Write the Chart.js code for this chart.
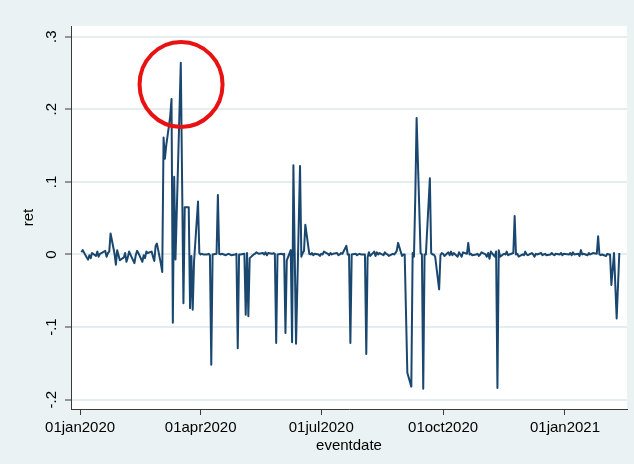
<!DOCTYPE html>
<html>
<head>
<meta charset="utf-8">
<script src="https://cdn.jsdelivr.net/npm/chart.js@4.4.1/dist/chart.umd.min.js"></script>
<style>
html,body{margin:0;padding:0;background:#EAF2F3;}
#wrap{width:634px;height:464px;position:relative;}
</style>
</head>
<body>
<div id="wrap"><canvas id="c" width="634" height="464"></canvas></div>
<script>
// Days since 01jan2020 (eventdate)
const days = [
  1,2,5,6,7,8,9,12,13,14,15,16,19,20,21,22,23,26,27,28,29,30,
  33,34,35,36,37,40,41,42,43,44,47,48,49,50,51,54,55,56,57,58,
  61,62,63,64,65,68,69,70,71,72,75,76,77,78,79,82,83,84,85,86,89,90,
  91,92,93,96,97,98,99,100,103,104,105,106,107,110,111,112,113,114,117,118,119,120,
  121,124,125,126,127,128,131,132,133,134,135,138,139,140,141,142,145,146,147,148,149,
  152,153,154,155,156,159,160,161,162,163,166,167,168,169,170,173,174,175,176,177,180,181,
  182,183,184,187,188,189,190,191,194,195,196,197,198,201,202,203,204,205,208,209,210,211,212,
  215,216,217,218,219,222,223,224,225,226,229,230,231,232,233,236,237,238,239,240,243,
  244,245,247,250,251,252,253,254,257,258,259,260,261,264,265,266,267,268,271,272,273,
  274,275,278,279,280,281,282,285,286,287,288,289,292,293,294,295,296,299,300,301,302,303,
  306,307,308,309,310,313,314,315,316,317,320,321,322,323,324,327,328,329,330,331,334,
  335,336,337,338,341,342,343,344,345,348,349,350,351,352,355,356,357,358,359,362,363,364,365,
  369,370,371,372,373,376,377,378,379,380,383,384,385,386,387,390,391,392,393,394,
  397,398,399,400,401,403,405,407
];
// ret values
const ret = [
  0.003,0.006,-0.004,-0.007,-0.001,-0.005,0.002,-0.002,0.004,-0.003,0.001,0.002,0.005,-0.003,0.002,0.004,0.029,0.001,-0.014,0.006,-0.001,-0.008,
  -0.004,0.002,-0.010,-0.004,0.004,-0.008,-0.012,-0.001,0.005,0.002,-0.010,-0.001,-0.005,0.004,0.002,0.004,-0.003,-0.009,0.012,0.015,
  -0.013,-0.024,0.161,0.132,0.150,0.190,0.214,-0.094,0.107,-0.007,0.197,0.264,0.100,-0.067,0.065,0.065,-0.074,-0.002,-0.076,-0.010,0.073,0.002,
  0.000,0.001,0.000,0.000,0.001,-0.001,-0.152,0.000,0.001,0.082,0.001,0.000,0.001,-0.001,0.000,0.001,0.000,-0.001,0.000,0.001,-0.129,0.000,
  0.000,0.001,-0.083,0.002,-0.085,-0.005,0.000,0.001,0.003,0.002,0.001,0.002,0.000,0.003,-0.001,0.002,0.001,0.002,0.001,-0.122,0.000,
  0.001,0.000,0.001,-0.108,-0.008,0.006,-0.121,0.123,0.000,-0.123,0.122,-0.003,0.002,0.005,0.041,0.001,0.000,0.002,-0.001,0.001,0.000,-0.002,
  0.001,0.000,0.004,0.001,-0.001,0.002,0.000,0.001,0.002,-0.001,0.000,0.002,0.001,0.012,0.000,0.000,-0.122,0.000,0.001,-0.001,0.000,0.001,0.000,
  0.000,-0.137,-0.004,0.003,-0.002,0.004,-0.002,0.003,0.000,0.002,-0.001,0.003,0.001,0.000,-0.002,0.001,0.000,0.002,0.005,0.016,-0.002,
  0.000,0.000,-0.163,-0.182,0.002,-0.003,0.080,0.188,0.002,0.000,-0.185,0.000,0.000,0.105,0.002,0.000,0.000,-0.003,-0.048,-0.001,0.002,
  0.001,-0.002,0.003,-0.001,0.004,-0.001,0.002,-0.003,0.003,0.000,-0.003,0.003,0.001,0.016,0.000,0.001,-0.001,0.000,0.001,-0.002,0.000,0.003,
  0.000,-0.003,0.002,-0.006,0.004,-0.003,0.004,-0.184,0.006,-0.003,0.001,0.000,0.004,-0.001,0.000,0.002,0.053,0.000,0.001,-0.003,0.000,
  -0.001,0.004,0.000,-0.001,0.002,0.000,-0.003,0.001,0.000,0.002,-0.001,0.000,0.001,-0.001,0.000,0.002,0.000,-0.001,0.001,0.000,0.002,-0.001,0.001,
  0.000,0.002,-0.001,0.003,0.000,0.001,-0.002,0.006,0.000,0.001,-0.001,0.002,0.000,0.001,0.002,0.001,0.025,0.000,-0.001,0.000,
  -0.002,0.001,0.000,0.000,-0.042,0.002,-0.088,0.002
];

const xTickDays = [0, 91, 182, 274, 366];
const xTickLabels = ['01jan2020', '01apr2020', '01jul2020', '01oct2020', '01jan2021'];
const yTickValues = [-0.2, -0.1, 0, 0.1, 0.2, 0.3];
const yTickLabels = ['-.2', '-.1', '0', '.1', '.2', '.3'];
const circleCenter = { day: 76.2, ret: 0.2342 };

Chart.defaults.font.family = '"Liberation Sans", Arial, sans-serif';
Chart.defaults.color = '#000';

const AXIS = '#3a3a3a';
const GRID = '#E4EEF0';

const bgPlugin = {
  id: 'bg',
  beforeDraw(chart) {
    const { ctx, chartArea: a } = chart;
    ctx.save();
    ctx.fillStyle = '#EAF2F3';
    ctx.fillRect(0, 0, chart.width, chart.height);
    ctx.fillStyle = '#FFFFFF';
    ctx.fillRect(a.left, a.top, a.right - a.left, a.bottom - a.top);
    ctx.restore();
  }
};

const yLabelPlugin = {
  id: 'ylabels',
  afterDraw(chart) {
    const { ctx } = chart;
    const ys = chart.scales.y;
    ctx.save();
    ctx.fillStyle = '#000';
    ctx.font = '15px "Liberation Sans", Arial, sans-serif';
    ctx.textAlign = 'center';
    ctx.textBaseline = 'middle';
    yTickValues.forEach((v, i) => {
      const py = ys.getPixelForValue(v);
      ctx.save();
      ctx.translate(52, py);
      ctx.rotate(-Math.PI / 2);
      ctx.fillText(yTickLabels[i], 0, 0);
      ctx.restore();
    });
    ctx.restore();
  }
};

const circlePlugin = {
  id: 'circle',
  afterDatasetsDraw(chart) {
    const { ctx } = chart;
    const cx = chart.scales.x.getPixelForValue(circleCenter.day);
    const cy = chart.scales.y.getPixelForValue(circleCenter.ret);
    ctx.save();
    ctx.strokeStyle = 'rgb(232,18,18)';
    ctx.lineWidth = 4;
    ctx.beginPath();
    ctx.ellipse(cx, cy, 41.5, 42.5, 0, 0, Math.PI * 2);
    ctx.stroke();
    ctx.restore();
  }
};

new Chart(document.getElementById('c'), {
  type: 'line',
  data: {
    datasets: [{
      data: days.map((d, i) => ({ x: d, y: ret[i] })),
      borderColor: '#1A476F',
      borderWidth: 2,
      pointRadius: 0,
      tension: 0,
      fill: false,
      borderJoinStyle: 'round'
    }]
  },
  options: {
    responsive: false,
    animation: false,
    devicePixelRatio: 1,
    layout: { padding: { top: 26, right: 7, left: 0, bottom: 0 } },
    plugins: { legend: { display: false }, tooltip: { enabled: false } },
    scales: {
      x: {
        type: 'linear',
        min: -6.87,
        max: 412.8,
        afterBuildTicks: (s) => { s.ticks = xTickDays.map(v => ({ value: v })); },
        afterFit: (s) => { s.height = 55; },
        ticks: {
          autoSkip: false,
          maxRotation: 0,
          minRotation: 0,
          padding: 4,
          font: { size: 15 },
          color: '#000',
          callback: (v) => { const i = xTickDays.indexOf(v); return i >= 0 ? xTickLabels[i] : ''; }
        },
        grid: { drawOnChartArea: false, drawTicks: true, tickLength: 6, tickColor: AXIS, tickWidth: 1 },
        border: { display: true, color: AXIS, width: 1 },
        title: { display: true, text: 'eventdate', font: { size: 15 }, color: '#000', padding: { top: 0, bottom: 9 } }
      },
      y: {
        type: 'linear',
        min: -0.2128,
        max: 0.3147,
        afterBuildTicks: (s) => { s.ticks = yTickValues.map(v => ({ value: v })); },
        afterFit: (s) => { s.width = 71; },
        ticks: { display: false },
        grid: { drawOnChartArea: true, color: GRID, lineWidth: 2, drawTicks: true, tickLength: 6, tickColor: AXIS, tickWidth: 1 },
        border: { display: true, color: AXIS, width: 1 },
        title: { display: true, text: 'ret', font: { size: 15 }, color: '#000', padding: { top: 20, bottom: 0 } }
      }
    }
  },
  plugins: [bgPlugin, circlePlugin, yLabelPlugin]
});
</script>
</body>
</html>
